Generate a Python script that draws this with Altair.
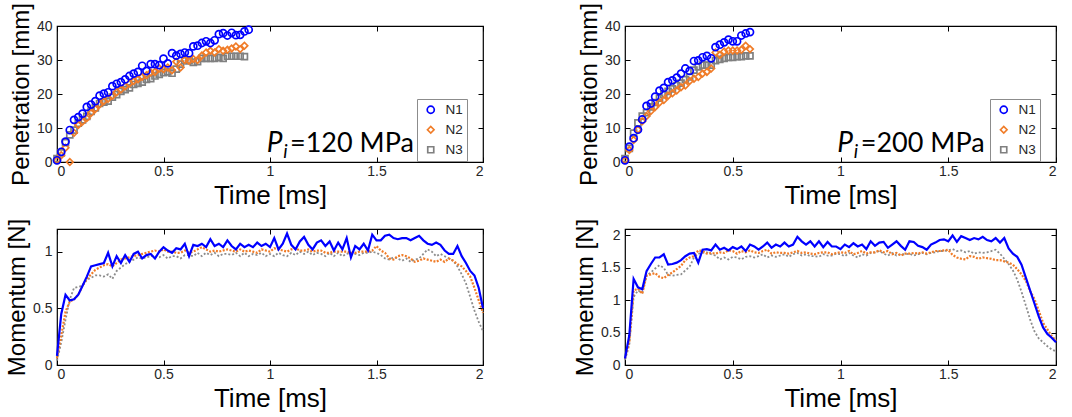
import altair as alt
import pandas as pd

FONT = "Liberation Sans"
ANNOT_FONT = "Lato"
SERIES = ["N1", "N2", "N3"]
COLORS = ["#0000FF", "#F07C28", "#808080"]
LINE_COLORS = ["#0000FF", "#F07C28", "#8C8C8C"]
SHAPES = ["circle", "diamond", "square"]

X_TICKS = [0, 0.5, 1, 1.5, 2]
PEN_TICKS = [0, 10, 20, 30, 40]
MOM120_TICKS = [0, 0.5, 1]
MOM200_TICKS = [0, 0.5, 1, 1.5, 2]

# ---- penetration [mm], sampled every 0.02 ms from t = 0 ----
PEN120_N1 = [0.5, 3.0, 6.0, 9.4, 12.4, 13.2, 14.2, 16.2, 16.9, 17.9,
             19.5, 20.1, 20.5, 22.3, 23.0, 23.5, 24.3, 25.3, 26.0, 26.5,
             28.3, 26.8, 28.8, 28.8, 28.5, 30.4, 29.0, 32.0, 31.3, 31.8,
             32.2, 32.0, 34.0, 34.2, 35.0, 35.5, 35.0, 35.8, 37.6, 37.9,
             37.2, 38.0, 37.3, 37.4, 38.4, 38.9]
PEN120_N2 = [0.5, 2.0, 4.2, 0.0, 8.6, 10.9, 11.9, 12.9, 14.4, 15.6,
             16.9, 17.9, 18.6, 19.5, 20.5, 21.3, 22.3, 23.1, 23.8, 24.3,
             25.1, 25.5, 26.3, 26.5, 27.5, 27.3, 27.8, 27.0, 29.5, 27.8,
             30.0, 29.8, 30.3, 30.0, 31.3, 32.2, 32.7, 32.2, 33.2, 32.7,
             33.0, 33.4, 34.0, 33.2, 34.2]
PEN120_N3 = [1.0, 2.7, 5.7, 8.0, 9.4, 11.4, 12.4, 13.4, 14.9, 15.9,
             17.2, 17.6, 17.9, 19.1, 19.8, 20.8, 21.3, 21.8, 22.8, 23.1,
             23.5, 24.3, 24.5, 25.3, 25.8, 26.3, 26.5, 26.1, 27.3, 28.8,
             29.8, 29.8, 29.3, 29.5, 30.5, 30.5, 30.5, 30.5, 30.8, 30.5,
             31.1, 31.1, 31.1, 31.1, 31.0]

PEN200_N1 = [0.5, 4.5, 7.0, 9.5, 12.5, 16.5, 17.2, 19.2, 21.0, 21.8,
             23.5, 24.0, 24.8, 26.0, 27.5, 26.8, 29.7, 29.9, 30.8, 31.2,
             30.5, 33.8, 34.5, 35.2, 36.0, 35.5, 35.5, 37.2, 37.8, 38.2]
PEN200_N2 = [0.5, 3.5, 6.5, 9.5, 12.0, 13.5, 15.0, 16.2, 17.5, 18.2,
             19.5, 20.2, 21.0, 22.0, 22.5, 23.8, 24.5, 25.0, 26.0, 26.5,
             27.5, 32.2, 31.5, 32.5, 32.8, 32.8, 32.8, 33.0, 34.2, 33.2]
PEN200_N3 = [1.0, 4.0, 8.5, 11.5, 13.5, 14.5, 16.2, 17.5, 18.8, 19.8,
             20.8, 21.5, 22.5, 23.2, 24.2, 25.0, 27.0, 28.0, 28.5, 28.5,
             28.5, 29.8, 30.2, 30.5, 30.8, 30.8, 31.0, 31.0, 31.2, 31.2]

# ---- momentum [N], sampled every 0.02 ms from 0 to 2 ms ----
MOM120_N1 = [0.08, 0.45, 0.62, 0.57, 0.58, 0.62, 0.70, 0.78, 0.87, 0.88,
             0.89, 0.90, 0.99, 0.87, 0.96, 0.90, 0.97, 0.91, 0.98, 1.00,
             0.94, 0.97, 0.98, 0.94, 1.00, 1.04, 1.01, 0.99, 1.03, 1.02,
             1.07, 0.96, 1.06, 1.05, 1.07, 1.04, 1.11, 1.05, 1.07, 1.04,
             1.10, 1.05, 1.02, 1.07, 1.04, 1.06, 1.04, 1.08, 1.05, 1.07,
             1.04, 1.12, 1.02, 1.07, 1.16, 1.06, 1.02, 1.09, 1.13, 1.06,
             1.02, 1.08, 1.10, 1.05, 1.09, 1.01, 1.08, 1.02, 1.12, 0.95,
             1.05, 1.02, 1.07, 1.01, 1.15, 1.10, 1.10, 1.14, 1.15, 1.12,
             1.11, 1.12, 1.12, 1.10, 1.12, 1.14, 1.10, 1.07, 1.06, 1.08,
             1.06, 1.01, 0.98, 0.98, 1.05, 0.96, 0.90, 0.83, 0.79, 0.68,
             0.50]
MOM120_N2 = [0.06, 0.26, 0.47, 0.56, 0.58, 0.62, 0.70, 0.76, 0.80, 0.84,
             0.86, 0.88, 0.89, 0.87, 0.90, 0.93, 0.94, 0.95, 0.96, 0.97,
             0.98, 0.99, 1.00, 1.01, 1.00, 1.02, 1.00, 1.00, 0.99, 0.99,
             1.01, 0.99, 1.00, 1.02, 1.04, 1.02, 1.00, 1.01, 1.00, 1.01,
             1.02, 1.01, 1.00, 1.02, 1.00, 1.01, 1.00, 0.99, 1.02, 1.01,
             1.00, 1.03, 1.02, 1.01, 1.00, 1.02, 1.03, 1.01, 1.01, 1.02,
             1.00, 1.01, 1.01, 0.99, 0.99, 1.00, 1.00, 1.00, 1.00, 0.99,
             0.99, 1.00, 1.00, 1.00, 1.01, 1.05, 1.01, 0.99, 0.94, 0.93,
             0.96, 0.97, 0.96, 0.94, 0.91, 0.92, 0.94, 0.93, 0.92, 0.91,
             0.93, 0.91, 0.94, 0.92, 0.89, 0.87, 0.83, 0.78, 0.68, 0.57,
             0.46]
MOM120_N3 = [0.04, 0.20, 0.40, 0.58, 0.68, 0.69, 0.70, 0.75, 0.77, 0.79,
             0.79, 0.78, 0.80, 0.76, 0.83, 0.86, 0.89, 0.91, 0.93, 0.95,
             0.94, 0.95, 0.96, 0.96, 0.95, 0.97, 0.94, 0.96, 0.96, 0.94,
             0.97, 0.97, 0.96, 0.99, 0.96, 0.99, 0.97, 0.99, 0.96, 0.98,
             0.98, 0.97, 0.99, 0.96, 0.99, 0.96, 0.98, 0.97, 0.99, 0.96,
             0.98, 0.96, 0.99, 0.97, 0.96, 0.99, 0.97, 1.00, 0.98, 1.00,
             0.97, 0.99, 0.98, 0.96, 0.99, 0.96, 0.99, 0.96, 0.98, 0.99,
             0.98, 0.97, 0.99, 0.99, 1.00, 0.99, 0.97, 0.94, 0.93, 0.95,
             0.94, 0.92, 0.94, 0.91, 0.93, 0.94, 0.98, 1.02, 1.00, 0.96,
             0.98, 0.96, 0.94, 0.92, 0.87, 0.80, 0.72, 0.60, 0.48, 0.38,
             0.30]

MOM200_N1 = [0.10, 0.46, 1.33, 1.20, 1.17, 1.45, 1.56, 1.66, 1.66, 1.71,
             1.55, 1.56, 1.58, 1.62, 1.68, 1.72, 1.73, 1.58, 1.78, 1.79,
             1.77, 1.86, 1.78, 1.81, 1.77, 1.82, 1.79, 1.83, 1.76, 1.86,
             1.83, 1.78, 1.83, 1.89, 1.81, 1.86, 1.83, 1.89, 1.83, 1.86,
             1.98, 1.91, 1.86, 1.91, 1.83, 1.91, 1.82, 1.90, 1.83, 1.83,
             1.79, 1.86, 1.82, 1.88, 1.83, 1.86, 1.79, 1.91, 1.84, 1.89,
             1.90, 1.81, 1.86, 1.91, 1.84, 1.78, 1.91, 1.90, 1.84, 1.82,
             1.78, 1.86, 1.89, 1.93, 1.94, 1.91, 2.00, 1.90, 1.99, 1.96,
             1.93, 1.96, 1.94, 1.98, 1.93, 1.91, 1.96, 1.89, 1.96, 1.80,
             1.72, 1.67, 1.55, 1.35, 1.15, 0.95, 0.75, 0.58, 0.48, 0.42,
             0.35]
MOM200_N2 = [0.10, 0.36, 1.15, 1.18, 1.10, 1.38, 1.40, 1.42, 1.36, 1.34,
             1.39, 1.43, 1.48, 1.53, 1.62, 1.66, 1.68, 1.77, 1.76, 1.72,
             1.73, 1.72, 1.74, 1.73, 1.77, 1.76, 1.72, 1.76, 1.74, 1.77,
             1.74, 1.73, 1.76, 1.78, 1.72, 1.74, 1.73, 1.73, 1.72, 1.74,
             1.76, 1.73, 1.74, 1.72, 1.71, 1.73, 1.74, 1.74, 1.71, 1.73,
             1.74, 1.73, 1.76, 1.71, 1.73, 1.76, 1.72, 1.74, 1.74, 1.77,
             1.74, 1.76, 1.71, 1.73, 1.69, 1.72, 1.72, 1.73, 1.72, 1.74,
             1.72, 1.74, 1.76, 1.76, 1.77, 1.78, 1.70, 1.66, 1.64, 1.63,
             1.68, 1.67, 1.64, 1.66, 1.65, 1.64, 1.62, 1.62, 1.60, 1.58,
             1.55, 1.48, 1.40, 1.30, 1.14, 1.02, 0.84, 0.65, 0.55, 0.45,
             0.37]
MOM200_N3 = [0.08, 0.31, 1.05, 1.15, 1.12, 1.38, 1.43, 1.49, 1.54, 1.50,
             1.39, 1.38, 1.39, 1.40, 1.46, 1.52, 1.66, 1.72, 1.73, 1.74,
             1.71, 1.69, 1.63, 1.66, 1.63, 1.67, 1.66, 1.63, 1.67, 1.68,
             1.66, 1.68, 1.71, 1.66, 1.69, 1.67, 1.69, 1.71, 1.67, 1.71,
             1.73, 1.69, 1.71, 1.68, 1.68, 1.67, 1.71, 1.69, 1.69, 1.72,
             1.71, 1.68, 1.73, 1.69, 1.66, 1.71, 1.69, 1.73, 1.74, 1.76,
             1.72, 1.69, 1.73, 1.69, 1.71, 1.71, 1.72, 1.69, 1.71, 1.73,
             1.71, 1.73, 1.74, 1.76, 1.76, 1.77, 1.79, 1.76, 1.77, 1.74,
             1.76, 1.72, 1.74, 1.73, 1.74, 1.76, 1.78, 1.72, 1.64, 1.56,
             1.46, 1.32, 1.13, 0.92, 0.70, 0.52, 0.41, 0.35, 0.29, 0.24,
             0.21]

DT = 0.02  # sampling interval of the recordings [ms]

LEFT_W = 426
RIGHT_W = 431
PEN_H = 136
MOM_H = 136
NUM_FMT = "~f"


def to_frame(series_lists):
    rows = []
    # draw N3 first, N1 last (on top)
    for name, vals in reversed(list(zip(SERIES, series_lists))):
        for i, v in enumerate(vals):
            rows.append({"t": round(i * DT, 2), "v": v, "s": name})
    return pd.DataFrame(rows)


def xscale():
    return alt.Scale(domain=[0, 2], nice=False, zero=False)


def yscale(dom):
    return alt.Scale(domain=dom, nice=False, zero=False)


def main_x(title):
    return alt.X("t:Q", scale=xscale(), axis=alt.Axis(
        orient="bottom", values=X_TICKS, format=NUM_FMT, title=title,
        offset=-5, tickSize=5, domain=False, labelPadding=2, titlePadding=4,
        titleFontSize=26, grid=False))


def main_y(title, values, dom):
    return alt.Y("v:Q", scale=yscale(dom),
                 axis=alt.Axis(orient="left", values=values, format=NUM_FMT,
                               title=title, offset=-5, tickSize=5,
                               domain=False, labelPadding=5, titlePadding=3,
                               grid=False))


def tick_layer(df, values, dom):
    return alt.Chart(df).mark_point(opacity=0).encode(
        x=alt.X("t:Q", scale=xscale(), axis=alt.Axis(
            orient="top", values=X_TICKS, labels=False, title=None,
            offset=-5, tickSize=5, domain=False, grid=False)),
        y=alt.Y("v:Q", scale=yscale(dom),
                axis=alt.Axis(orient="right", values=values, labels=False,
                              title=None, offset=-5, tickSize=5,
                              domain=False, grid=False)),
    )


def label_layers(pressure, dom):
    parts = [
        ({"t": [0.985], "v": [2.9], "txt": ["P"]}, 28, "italic"),
        ({"t": [1.062], "v": [1.1], "txt": ["i"]}, 19, "italic"),
        ({"t": [1.094], "v": [2.9], "txt": ["=" + pressure + " MPa"]}, 27, "normal"),
    ]
    out = []
    for d, fs, st in parts:
        out.append(alt.Chart(pd.DataFrame(d)).mark_text(
            align="left", baseline="alphabetic", font=ANNOT_FONT, fontSize=fs,
            fontStyle=st, color="black").encode(
            x=alt.X("t:Q", scale=xscale(), axis=None),
            y=alt.Y("v:Q", scale=yscale(dom), axis=None),
            text="txt:N"))
    return out


def legend(panel_w):
    return alt.Legend(
        title=None, orient="none", legendX=panel_w - 66, legendY=73,
        direction="vertical", fillColor="white",
        strokeColor="#8C8C8C", padding=4, symbolOffset=3,
        labelFont=FONT, labelFontSize=13.5, labelColor="#262626",
        labelExpr="datum.label + '\u00a0\u00a0\u00a0'",
        symbolStrokeWidth=1.7, symbolSize=36, rowPadding=5,
        labelOffset=8)


def pen_panel(lists, pressure, panel_w):
    df = to_frame(lists)
    dom = [0, 40]
    pts = alt.Chart(df).mark_point(filled=False, strokeWidth=1.7, opacity=1).encode(
        x=main_x("Time [ms]"),
        y=main_y("Penetration [mm]", PEN_TICKS, dom),
        color=alt.Color("s:N", scale=alt.Scale(domain=SERIES, range=COLORS),
                        legend=legend(panel_w)),
        shape=alt.Shape("s:N", scale=alt.Scale(domain=SERIES, range=SHAPES),
                        legend=legend(panel_w)),
        size=alt.Size("s:N", scale=alt.Scale(domain=SERIES, range=[50, 36, 30]),
                      legend=None),
    )
    layers = [tick_layer(df, PEN_TICKS, dom), pts] + label_layers(pressure, dom)
    return alt.layer(*layers).resolve_axis(x="independent", y="independent").properties(
        width=panel_w, height=PEN_H)


def mom_panel(lists, ticks, dom, panel_w):
    df = to_frame(lists)
    styles = {
        "N3": dict(color=LINE_COLORS[2], strokeWidth=1.8, strokeDash=[2, 2]),
        "N2": dict(color=LINE_COLORS[1], strokeWidth=2.2, strokeDash=[2, 1.5]),
        "N1": dict(color=LINE_COLORS[0], strokeWidth=2.2),
    }
    line_layers = []
    first = True
    for name in ["N3", "N2", "N1"]:
        enc_x = main_x("Time [ms]") if first else alt.X("t:Q", scale=xscale(), axis=None)
        enc_y = main_y("Momentum [N]", ticks, dom) if first else alt.Y(
            "v:Q", scale=yscale(dom), axis=None)
        first = False
        line_layers.append(
            alt.Chart(df).transform_filter(alt.datum.s == name)
            .mark_line(**styles[name]).encode(x=enc_x, y=enc_y, order="t:Q"))
    layers = [tick_layer(df, ticks, dom)] + line_layers
    return alt.layer(*layers).resolve_axis(x="independent", y="independent").properties(
        width=panel_w, height=MOM_H)


tl = pen_panel([PEN120_N1, PEN120_N2, PEN120_N3], "120", LEFT_W)
tr = pen_panel([PEN200_N1, PEN200_N2, PEN200_N3], "200", RIGHT_W)
bl = mom_panel([MOM120_N1, MOM120_N2, MOM120_N3], MOM120_TICKS, [0, 1.2], LEFT_W)
br = mom_panel([MOM200_N1, MOM200_N2, MOM200_N3], MOM200_TICKS, [0, 2.1], RIGHT_W)

chart = alt.concat(
    tl, tr, bl, br, columns=2, spacing={"row": 67, "column": 142}, bounds="flush"
).resolve_scale(
    color="independent", shape="independent", size="independent"
).configure(
    font=FONT, background="white",
    padding={"left": 4, "top": 2, "right": 0, "bottom": 0},
).configure_view(
    stroke="black", strokeWidth=1.2
).configure_axis(
    labelFont=FONT, labelFontSize=14, labelColor="#262626",
    titleFont=FONT, titleFontSize=24, titleFontWeight="normal", titleColor="black",
    tickColor="black", tickWidth=1, grid=False
)

chart.save("out.html", embed_options={"renderer": "svg", "actions": False})
